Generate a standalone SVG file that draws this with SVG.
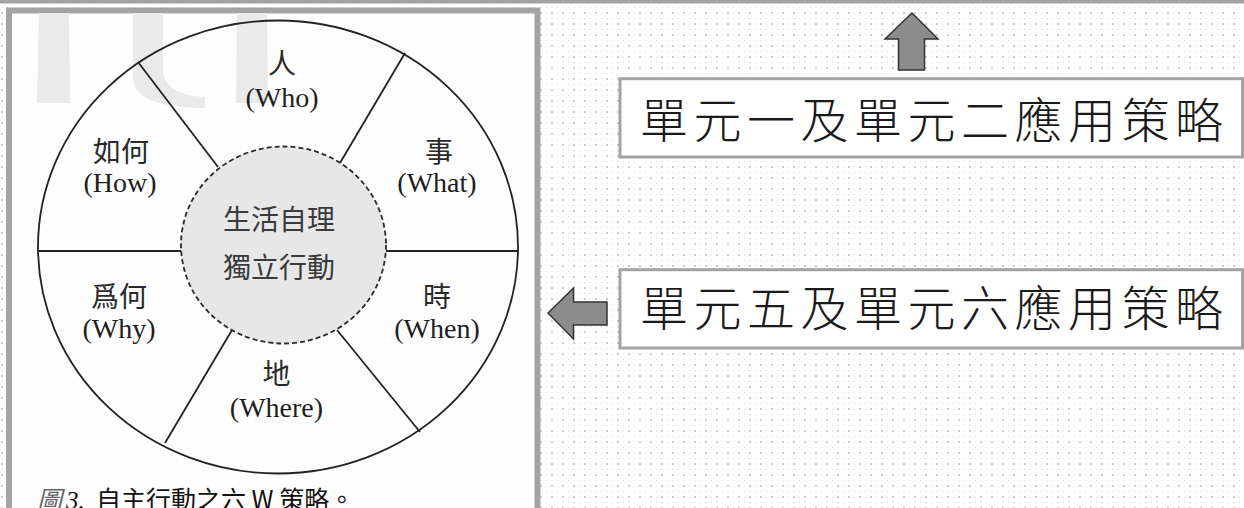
<svg xmlns="http://www.w3.org/2000/svg" width="1244" height="508" viewBox="0 0 1244 508">
<defs>
<pattern id="dots" x="0" y="0" width="11" height="11" patternUnits="userSpaceOnUse">
<rect width="11" height="11" fill="#ffffff"/>
<circle cx="2" cy="2" r="0.9" fill="#b4b4b4"/>
<circle cx="7.5" cy="2" r="0.6" fill="#d2d2d2"/>
<circle cx="2" cy="7.5" r="0.6" fill="#d2d2d2"/>
<circle cx="7.5" cy="7.5" r="0.6" fill="#d8d8d8"/>
</pattern>
<style>
.frame{fill:#fdfdfd;stroke:#a3a3a3;stroke-width:6}
.wm{fill:#eaeaea}
.ring{fill:none;stroke:#222;stroke-width:1.8}
.hub{fill:#e7e7e7;stroke:#2a2a2a;stroke-width:1.8;stroke-dasharray:5 3}
.spoke{stroke:#222;stroke-width:1.8}
.zh{font-family:"Noto Sans CJK TC","Noto Sans CJK SC",sans-serif;font-size:28px;fill:#2a2a2a;text-anchor:middle}
.en{font-family:"Liberation Serif",serif;font-size:28px;fill:#1e1e1e;text-anchor:middle}
.hubtxt{font-family:"Noto Sans CJK TC","Noto Sans CJK SC",sans-serif;font-size:28px;fill:#3a3a3a;text-anchor:middle}
.box{fill:#ffffff;stroke:#a3a3a3;stroke-width:3}
.boxtxt{font-family:"Noto Sans CJK TC","Noto Sans CJK SC",sans-serif;font-size:48px;font-weight:300;fill:#1a1a1a;letter-spacing:5.5px}
.arrow{fill:#8c8c8c;stroke:#333;stroke-width:1.5;stroke-linejoin:miter}
.cap{font-family:"Noto Sans CJK TC","Noto Sans CJK SC",sans-serif;font-size:25px;fill:#111}
</style>
</defs>
<g id="background">
<rect x="0" y="0" width="1244" height="508" fill="url(#dots)"/>
<rect x="0" y="0" width="1244" height="3.5" fill="#a3a3a3"/>
</g>
<g id="figure-panel">
<rect class="frame" x="9" y="10.5" width="528.5" height="510"/>
<path class="wm" d="M39,13 L69,13 L70,103 L37,103 Z"/>
<path class="wm" d="M133,13 L163,13 L163,72 Q166,95 205,97 L205,108 Q138,108 133,80 Z"/>
<path class="wm" d="M237,13 L267,13 L268,103 L236,103 Z"/>
</g>
<g id="wheel">
<ellipse class="ring" cx="278" cy="247" rx="240" ry="226.5"/>
<line class="spoke" x1="38" y1="251" x2="181" y2="251"/>
<line class="spoke" x1="386" y1="251" x2="518" y2="251"/>
<line class="spoke" x1="138" y1="62" x2="218" y2="167"/>
<line class="spoke" x1="405" y1="53" x2="340" y2="163"/>
<line class="spoke" x1="165" y1="443" x2="232" y2="330"/>
<line class="spoke" x1="420" y1="432" x2="337" y2="330"/>
</g>
<g id="hub">
<ellipse class="hub" cx="283.5" cy="245" rx="102.5" ry="98.5"/>
<text class="hubtxt" x="279" y="230">生活自理</text>
<text class="hubtxt" x="279" y="278">獨立行動</text>
</g>
<g id="who"><text class="zh" x="282" y="74">人</text><text class="en" x="282" y="107">(Who)</text></g>
<g id="what"><text class="zh" x="439" y="162">事</text><text class="en" x="437" y="192">(What)</text></g>
<g id="how"><text class="zh" x="121" y="162">如何</text><text class="en" x="120" y="192">(How)</text></g>
<g id="why"><text class="zh" x="119" y="307">爲何</text><text class="en" x="119" y="338">(Why)</text></g>
<g id="when"><text class="zh" x="437" y="307">時</text><text class="en" x="437" y="338">(When)</text></g>
<g id="where"><text class="zh" x="276.5" y="384">地</text><text class="en" x="276.5" y="416.5">(Where)</text></g>
<g id="caption">
<text x="37" y="509" class="cap"><tspan font-style="italic" fill="#666">圖</tspan><tspan font-family="Liberation Serif, serif" font-style="italic" dx="4">3.</tspan><tspan x="96">自主行動之六 W 策略。</tspan></text>
</g>
<g id="box-unit12">
<rect class="box" x="620" y="78.7" width="622.5" height="78.3"/>
<text class="boxtxt" x="640" y="138">單元一及單元二應用策略</text>
</g>
<g id="box-unit56">
<rect class="box" x="620" y="269.7" width="622.5" height="78.3"/>
<text class="boxtxt" x="640" y="326">單元五及單元六應用策略</text>
</g>
<g id="connectors">
<path class="arrow" d="M912,13 L938,39 L924.5,39 L924.5,70 L898.5,70 L898.5,39 L885,39 Z"/>
<path class="arrow" d="M548,313 L573.5,288 L573.5,302 L607,302 L607,325 L573.5,325 L573.5,339 Z"/>
</g>
</svg>
